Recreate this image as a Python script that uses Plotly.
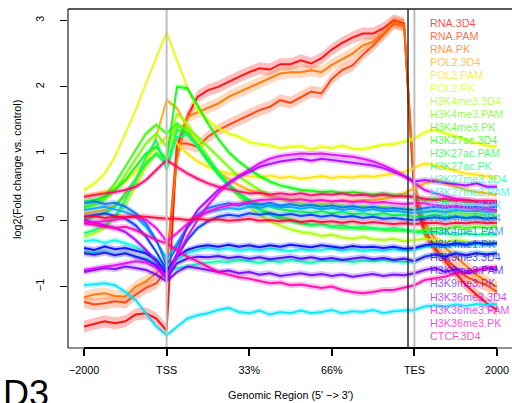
import colorsys
import numpy as np
import plotly.graph_objects as go

# ---------------------------------------------------------------------------
# Average enrichment profiles (log2 fold change vs. control) over a
# meta-gene: 2 kb upstream, TSS, scaled gene body, TES, 2 kb downstream.
# Each profile is sampled on 41 evenly spaced bins (bin 0 = -2000, bin 8 = TSS,
# bin 32 = TES, bin 40 = +2000).
# ---------------------------------------------------------------------------
TICK_VALS = [0, 1, 2, 3, 4, 5]
TICK_TEXT = ["\u22122000", "TSS", "33%", "66%", "TES", "2000"]
Y_TICKS = [-1, 0, 1, 2, 3]
Y_TICK_TEXT = ["\u22121", "0", "1", "2", "3"]
BINS = np.linspace(0, 5, 41)

names = [
    "RNA.3D4", "RNA.PAM", "RNA.PK",
    "POL2.3D4", "POL2.PAM", "POL2.PK",
    "H3K4me3.3D4", "H3K4me3.PAM", "H3K4me3.PK",
    "H3K27ac.3D4", "H3K27ac.PAM", "H3K27ac.PK",
    "H3K27me3.3D4", "H3K27me3.PAM", "H3K27me3.PK",
    "H3K4me1.3D4", "H3K4me1.PAM", "H3K4me1.PK",
    "H3K9me3.3D4", "H3K9me3.PAM", "H3K9me3.PK",
    "H3K36me3.3D4", "H3K36me3.PAM", "H3K36me3.PK",
    "CTCF.3D4", "CTCF.PAM", "CTCF.PK",
]

RNA_3D4 = [-1.60, -1.56, -1.52, -1.55, -1.52, -1.42, -1.40, -1.48, -1.66,
           1.10, 1.55, 1.85, 1.95, 2.00, 2.08, 2.15, 2.22, 2.28, 2.26, 2.34, 2.34, 2.40,
           2.35, 2.43, 2.56, 2.66, 2.74, 2.80, 2.80, 2.88, 3.00, 2.95, 0.40,
           -0.15, -0.42, -0.62, -0.80, -0.98, -1.12, -1.25, -1.35]
RNA_PAM = [-1.23, -1.27, -1.25, -1.22, -1.24, -1.12, -1.02, -0.95, -0.75,
           1.15, 1.15, 1.10, 1.25, 1.35, 1.43, 1.50, 1.58, 1.65, 1.70, 1.80, 1.76, 1.85,
           1.93, 1.90, 2.12, 2.25, 2.32, 2.48, 2.62, 2.78, 2.95, 2.92, 0.30,
           -0.22, -0.45, -0.58, -0.72, -0.85, -0.92, -0.98, -1.08]
RNA_PK = [-1.16, -1.12, -1.10, -1.14, -1.15, -1.00, -0.92, -0.80, -0.62,
          0.90, 1.55, 1.62, 1.68, 1.75, 1.85, 1.92, 2.00, 2.06, 2.13, 2.20, 2.22, 2.22,
          2.25, 2.22, 2.33, 2.42, 2.50, 2.62, 2.68, 2.80, 2.97, 2.93, 0.55,
          -0.05, -0.28, -0.42, -0.55, -0.68, -0.82, -0.92, -1.00]
POL2_3D4 = [0.10, 0.12, 0.15, 0.22, 0.35, 0.55, 0.85, 1.25, 1.80,
            1.68, 1.40, 1.10, 0.88, 0.72, 0.62, 0.52, 0.45, 0.40, 0.36, 0.33, 0.30, 0.32,
            0.28, 0.30, 0.27, 0.30, 0.28, 0.30, 0.30, 0.32, 0.35, 0.40, 0.48,
            0.55, 0.60, 0.55, 0.50, 0.45, 0.42, 0.40, 0.38]
POL2_PAM = [0.35, 0.38, 0.42, 0.48, 0.58, 0.72, 0.90, 1.10, 1.25,
            1.15, 1.00, 0.88, 0.80, 0.74, 0.70, 0.68, 0.66, 0.64, 0.67, 0.63, 0.65, 0.62,
            0.64, 0.66, 0.63, 0.65, 0.64, 0.66, 0.65, 0.68, 0.70, 0.72, 0.78,
            0.85, 0.82, 0.78, 0.74, 0.70, 0.68, 0.65, 0.63]
POL2_PK = [0.45, 0.55, 0.70, 0.95, 1.30, 1.65, 2.05, 2.45, 2.82,
           2.40, 2.00, 1.65, 1.50, 1.38, 1.30, 1.25, 1.17, 1.14, 1.12, 1.08, 1.10, 1.11,
           1.06, 1.10, 1.08, 1.12, 1.07, 1.06, 1.10, 1.13, 1.14, 1.18, 1.22,
           1.32, 1.36, 1.30, 1.26, 1.20, 1.16, 1.12, 1.10]
H3K4me3_3D4 = [-0.25, -0.20, -0.12, 0.02, 0.22, 0.50, 0.80, 1.00, 0.95,
               1.60, 1.45, 1.20, 0.95, 0.72, 0.52, 0.35, 0.20, 0.08, -0.02, -0.08, -0.14, -0.18,
               -0.20, -0.24, -0.22, -0.26, -0.28, -0.25, -0.29, -0.30, -0.28, -0.32, -0.30,
               -0.28, -0.30, -0.33, -0.30, -0.32, -0.35, -0.33, -0.35]
H3K4me3_PAM = [0.18, 0.22, 0.30, 0.45, 0.68, 0.92, 1.15, 1.30, 1.10,
               1.40, 1.38, 1.25, 1.10, 0.95, 0.80, 0.65, 0.55, 0.45, 0.38, 0.32, 0.28, 0.25,
               0.22, 0.24, 0.20, 0.22, 0.19, 0.21, 0.18, 0.20, 0.17, 0.18, 0.15,
               0.12, 0.14, 0.10, 0.12, 0.09, 0.10, 0.08, 0.10]
H3K4me3_PK = [0.20, 0.25, 0.35, 0.55, 0.80, 1.05, 1.30, 1.43, 1.30,
              1.45, 1.32, 1.12, 0.92, 0.72, 0.55, 0.40, 0.28, 0.18, 0.10, 0.05, 0.00, -0.04,
              -0.08, -0.06, -0.10, -0.12, -0.11, -0.14, -0.13, -0.15, -0.16, -0.15, -0.18,
              -0.15, -0.12, -0.14, -0.10, -0.12, -0.10, -0.12, -0.10]
H3K27ac_3D4 = [0.28, 0.30, 0.35, 0.45, 0.60, 0.80, 1.00, 1.10, 0.90,
               2.00, 1.98, 1.72, 1.45, 1.22, 1.02, 0.88, 0.76, 0.66, 0.58, 0.52, 0.48, 0.45,
               0.44, 0.42, 0.43, 0.40, 0.42, 0.40, 0.38, 0.40, 0.37, 0.36, 0.34,
               0.30, 0.32, 0.28, 0.30, 0.27, 0.28, 0.26, 0.27]
H3K27ac_PAM = [0.00, 0.05, 0.10, 0.20, 0.40, 0.62, 0.85, 1.00, 0.82,
               1.35, 1.30, 1.10, 0.88, 0.68, 0.52, 0.40, 0.30, 0.24, 0.20, 0.16, 0.14, 0.12,
               0.11, 0.13, 0.10, 0.12, 0.09, 0.10, 0.08, 0.10, 0.07, 0.08, 0.05,
               0.05, 0.08, 0.04, 0.06, 0.03, 0.05, 0.02, 0.04]
H3K27ac_PK = [-0.20, -0.15, -0.08, 0.05, 0.30, 0.60, 0.95, 1.20, 0.75,
              1.25, 1.28, 1.12, 0.92, 0.72, 0.52, 0.38, 0.25, 0.15, 0.08, 0.02, -0.02, -0.05,
              -0.08, -0.06, -0.10, -0.08, -0.12, -0.10, -0.12, -0.14, -0.12, -0.15, -0.18,
              -0.20, -0.18, -0.20, -0.22, -0.20, -0.22, -0.21, -0.22]
H3K27me3_3D4 = [-0.48, -0.50, -0.47, -0.52, -0.50, -0.55, -0.58, -0.65, -0.78,
                -0.72, -0.70, -0.66, -0.64, -0.62, -0.63, -0.60, -0.62, -0.64, -0.61, -0.63, -0.60, -0.62,
                -0.64, -0.61, -0.62, -0.60, -0.63, -0.61, -0.62, -0.60, -0.62, -0.63, -0.62,
                -0.55, -0.52, -0.54, -0.50, -0.52, -0.50, -0.51, -0.50]
H3K27me3_PAM = [-0.32, -0.30, -0.34, -0.30, -0.35, -0.40, -0.48, -0.58, -0.72,
                -0.60, -0.50, -0.45, -0.42, -0.45, -0.43, -0.46, -0.44, -0.46, -0.43, -0.45, -0.47, -0.44,
                -0.46, -0.45, -0.43, -0.46, -0.44, -0.47, -0.45, -0.46, -0.44, -0.46, -0.45,
                -0.40, -0.38, -0.40, -0.37, -0.38, -0.36, -0.38, -0.36]
H3K27me3_PK = [-0.98, -0.96, -0.95, -0.98, -1.08, -1.20, -1.40, -1.60, -1.73,
               -1.60, -1.48, -1.43, -1.40, -1.35, -1.32, -1.38, -1.40, -1.36, -1.42, -1.38, -1.40, -1.36,
               -1.40, -1.38, -1.35, -1.40, -1.37, -1.38, -1.35, -1.40, -1.37, -1.36, -1.35,
               -1.30, -1.28, -1.30, -1.27, -1.29, -1.26, -1.28, -1.26]
H3K4me1_3D4 = [0.15, 0.18, 0.20, 0.16, 0.12, 0.05, -0.10, -0.32, -0.58,
               -0.35, -0.10, 0.05, 0.12, 0.15, 0.18, 0.16, 0.20, 0.18, 0.22, 0.19, 0.20, 0.17,
               0.19, 0.16, 0.18, 0.15, 0.17, 0.14, 0.16, 0.13, 0.14, 0.12, 0.10,
               0.12, 0.14, 0.12, 0.15, 0.13, 0.14, 0.12, 0.13]
H3K4me1_PAM = [0.25, 0.28, 0.24, 0.26, 0.20, 0.10, -0.05, -0.30, -0.68,
               -0.40, -0.12, 0.08, 0.18, 0.22, 0.25, 0.22, 0.25, 0.23, 0.26, 0.22, 0.24, 0.21,
               0.23, 0.20, 0.22, 0.19, 0.21, 0.18, 0.20, 0.17, 0.18, 0.16, 0.15,
               0.18, 0.20, 0.18, 0.21, 0.19, 0.20, 0.18, 0.20]
H3K4me1_PK = [0.05, 0.08, 0.10, 0.06, 0.02, -0.08, -0.25, -0.48, -0.75,
              -0.55, -0.30, -0.12, -0.02, 0.05, 0.08, 0.06, 0.10, 0.08, 0.10, 0.07, 0.09, 0.06,
              0.08, 0.05, 0.07, 0.04, 0.06, 0.03, 0.05, 0.02, 0.03, 0.01, 0.00,
              0.02, 0.04, 0.02, 0.05, 0.03, 0.04, 0.02, 0.03]
H3K9me3_3D4 = [-0.42, -0.45, -0.40, -0.44, -0.42, -0.46, -0.50, -0.60, -0.80,
               -0.55, -0.45, -0.40, -0.38, -0.40, -0.37, -0.40, -0.38, -0.41, -0.38, -0.40, -0.37, -0.39,
               -0.41, -0.38, -0.40, -0.42, -0.39, -0.41, -0.40, -0.42, -0.40, -0.43, -0.42,
               -0.38, -0.36, -0.38, -0.35, -0.37, -0.34, -0.36, -0.35]
H3K9me3_PAM = [-0.50, -0.52, -0.49, -0.53, -0.50, -0.55, -0.60, -0.68, -0.88,
               -0.65, -0.58, -0.55, -0.56, -0.54, -0.57, -0.55, -0.58, -0.56, -0.59, -0.57, -0.55, -0.58,
               -0.56, -0.59, -0.57, -0.60, -0.58, -0.56, -0.59, -0.57, -0.60, -0.58, -0.62,
               -0.55, -0.52, -0.55, -0.50, -0.53, -0.50, -0.52, -0.50]
H3K9me3_PK = [-0.78, -0.75, -0.72, -0.74, -0.70, -0.72, -0.75, -0.82, -0.92,
              -0.78, -0.70, -0.72, -0.75, -0.78, -0.76, -0.80, -0.78, -0.82, -0.80, -0.84, -0.82, -0.80,
              -0.83, -0.81, -0.84, -0.82, -0.85, -0.83, -0.81, -0.84, -0.82, -0.83, -0.80,
              -0.75, -0.72, -0.78, -0.74, -0.80, -0.76, -0.72, -0.75]
H3K36me3_3D4 = [0.00, -0.04, -0.08, -0.12, -0.18, -0.30, -0.45, -0.62, -0.85,
                -0.50, -0.10, 0.15, 0.30, 0.45, 0.55, 0.65, 0.72, 0.80, 0.84, 0.88, 0.90, 0.92,
                0.89, 0.92, 0.90, 0.88, 0.86, 0.84, 0.82, 0.78, 0.72, 0.66, 0.58,
                0.60, 0.58, 0.56, 0.55, 0.52, 0.55, 0.50, 0.50]
H3K36me3_PAM = [-0.75, -0.72, -0.70, -0.68, -0.65, -0.62, -0.64, -0.72, -0.86,
                -0.55, -0.25, 0.00, 0.22, 0.40, 0.55, 0.66, 0.75, 0.85, 0.92, 0.96, 0.98, 1.00,
                0.99, 1.00, 0.98, 0.97, 0.95, 0.92, 0.88, 0.82, 0.75, 0.66, 0.55,
                0.45, 0.40, 0.36, 0.32, 0.30, 0.28, 0.25, 0.25]
H3K36me3_PK = [-0.05, -0.03, -0.02, 0.00, 0.04, 0.05, 0.00, -0.12, -0.32,
               -0.20, -0.06, 0.05, 0.12, 0.18, 0.22, 0.25, 0.28, 0.30, 0.31, 0.32, 0.30, 0.31,
               0.29, 0.30, 0.28, 0.29, 0.27, 0.28, 0.26, 0.27, 0.25, 0.24, 0.25,
               0.25, 0.22, 0.21, 0.20, 0.19, 0.18, 0.16, 0.15]
CTCF_3D4 = [-0.05, -0.08, -0.10, -0.12, -0.10, -0.15, -0.22, -0.30, -0.35,
            -0.45, -0.55, -0.62, -0.70, -0.78, -0.82, -0.86, -0.88, -0.92, -0.95, -0.94, -0.98, -0.97,
            -1.00, -1.02, -1.00, -1.05, -1.08, -1.10, -1.08, -1.05, -1.05, -1.02, -0.98,
            -0.90, -0.88, -0.85, -0.80, -0.78, -0.75, -0.72, -0.70]
CTCF_PAM = [0.35, 0.38, 0.40, 0.42, 0.45, 0.50, 0.60, 0.75, 0.90,
            0.80, 0.70, 0.62, 0.55, 0.50, 0.46, 0.43, 0.40, 0.41, 0.38, 0.40, 0.38, 0.40,
            0.37, 0.39, 0.38, 0.40, 0.37, 0.38, 0.36, 0.38, 0.36, 0.35, 0.35,
            0.32, 0.30, 0.32, 0.29, 0.30, 0.28, 0.29, 0.28]
CTCF_PK = [0.05, 0.06, 0.03, 0.05, 0.04, 0.06, 0.05, 0.03, 0.02,
           0.02, 0.00, 0.02, 0.00, 0.01, -0.01, 0.00, 0.02, -0.01, 0.00, -0.02, 0.00, -0.03,
           -0.01, -0.03, -0.02, -0.04, -0.02, -0.05, -0.03, -0.05, -0.06, -0.05, -0.06,
           -0.05, -0.04, -0.06, -0.04, -0.05, -0.03, -0.05, -0.04]

profiles = [
    RNA_3D4, RNA_PAM, RNA_PK,
    POL2_3D4, POL2_PAM, POL2_PK,
    H3K4me3_3D4, H3K4me3_PAM, H3K4me3_PK,
    H3K27ac_3D4, H3K27ac_PAM, H3K27ac_PK,
    H3K27me3_3D4, H3K27me3_PAM, H3K27me3_PK,
    H3K4me1_3D4, H3K4me1_PAM, H3K4me1_PK,
    H3K9me3_3D4, H3K9me3_PAM, H3K9me3_PK,
    H3K36me3_3D4, H3K36me3_PAM, H3K36me3_PK,
    CTCF_3D4, CTCF_PAM, CTCF_PK,
]

# standard-error half-width of the shaded band around each profile
stderr = [0.09, 0.09, 0.09] + [0.045] * 24

# ---------------------------------------------------------------------------
FONT = "Liberation Sans, Arial, Helvetica, sans-serif"
W, H = 512, 403
L, T, B = 68, 9, 55
PLOT_H = H - T - B
PLOT_W = W - L
X_RANGE = [-0.1937, 5.1816]
Y_RANGE = [-1.922, 3.169]


def rainbow(i, n, alpha):
    r, g, b = colorsys.hsv_to_rgb(i / n, 1.0, 1.0)
    return f"rgba({int(r * 255)},{int(g * 255)},{int(b * 255)},{alpha})"


n = len(names)
fig = go.Figure()
for i, (name, vals) in enumerate(zip(names, profiles)):
    y = np.array(vals)
    se = stderr[i]
    fig.add_trace(go.Scatter(x=BINS, y=y + se, mode="lines",
                             line=dict(width=0, color=rainbow(i, n, 0)),
                             hoverinfo="skip", showlegend=False))
    fig.add_trace(go.Scatter(x=BINS, y=y - se, mode="lines",
                             line=dict(width=0, color=rainbow(i, n, 0)),
                             fill="tonexty", fillcolor=rainbow(i, n, 0.25),
                             hoverinfo="skip", showlegend=False))
    fig.add_trace(go.Scatter(x=BINS, y=y, mode="lines", name=name,
                             line=dict(width=2, color=rainbow(i, n, 0.9)),
                             showlegend=False))


def px_to_paper_x(px):
    return (px - L) / PLOT_W


def py_to_paper_y(py):
    return (H - B - py) / PLOT_H


shapes = []
# TSS / TES guides
for xv in (TICK_VALS[1], TICK_VALS[4]):
    shapes.append(dict(type="line", xref="x", yref="paper", x0=xv, x1=xv, y0=0, y1=1,
                       line=dict(color="#BEBEBE", width=2), layer="above"))
# plot frame (open to the right)
shapes.append(dict(type="line", xref="paper", yref="paper", x0=0, x1=1, y0=1, y1=1,
                   line=dict(color="#222222", width=1.3)))
shapes.append(dict(type="line", xref="paper", yref="paper", x0=0, x1=0, y0=0, y1=1,
                   line=dict(color="#222222", width=1.2)))
shapes.append(dict(type="line", xref="paper", yref="paper", x0=0, x1=1, y0=0, y1=0,
                   line=dict(color="#222222", width=1)))
# x axis line spanning the first to last tick
shapes.append(dict(type="line", xref="x", yref="paper", x0=TICK_VALS[0], x1=TICK_VALS[-1],
                   y0=0, y1=0, line=dict(color="black", width=2.2)))
# legend frame, left edge
shapes.append(dict(type="line", xref="paper", yref="paper",
                   x0=px_to_paper_x(408), x1=px_to_paper_x(408), y0=0, y1=1,
                   line=dict(color="#222222", width=1.4), layer="above"))

annotations = []
# text-only legend, clipped at the bottom of the plotting region
for i, name in enumerate(names):
    yc = 22.7 + 13.04 * i
    if yc > H - B - 6:
        break
    annotations.append(dict(text=name, xref="paper", yref="paper",
                            x=px_to_paper_x(428), y=py_to_paper_y(yc),
                            xanchor="left", yanchor="middle", showarrow=False,
                            font=dict(family=FONT, size=10.8, color=rainbow(i, n, 0.72))))
annotations.append(dict(text="log2(Fold change vs. control)", xref="paper", yref="paper",
                        x=px_to_paper_x(17), y=py_to_paper_y(170), textangle=-90,
                        xanchor="center", yanchor="middle", showarrow=False,
                        font=dict(family=FONT, size=10.8, color="black")))
annotations.append(dict(text="Genomic Region (5' \u2212> 3')", xref="paper", yref="paper",
                        x=px_to_paper_x(290), y=py_to_paper_y(395),
                        xanchor="center", yanchor="middle", showarrow=False,
                        font=dict(family=FONT, size=10.8, color="black")))
annotations.append(dict(text="D3", xref="paper", yref="paper",
                        x=px_to_paper_x(51), y=py_to_paper_y(394),
                        xanchor="right", yanchor="middle", showarrow=False,
                        font=dict(family=FONT, size=36, color="black")))

fig.update_layout(
    width=W, height=H,
    margin=dict(l=L, r=0, t=T, b=B, pad=0),
    paper_bgcolor="white", plot_bgcolor="white",
    font=dict(family=FONT, size=10.8, color="black"),
    shapes=shapes, annotations=annotations,
    xaxis=dict(range=X_RANGE, tickvals=TICK_VALS, ticktext=TICK_TEXT,
               ticks="outside", ticklen=7, tickwidth=2, tickcolor="black",
               showgrid=False, zeroline=False, showline=False,
               ticklabelstandoff=5, tickfont=dict(family=FONT, size=10.8)),
    yaxis=dict(range=Y_RANGE, tickvals=Y_TICKS, ticktext=Y_TICK_TEXT, tickangle=-90,
               ticks="outside", ticklen=7, tickwidth=1.2, tickcolor="black",
               showgrid=False, zeroline=False, showline=False,
               ticklabelstandoff=12, tickfont=dict(family=FONT, size=10.8)),
)

fig.write_html("out.html")
